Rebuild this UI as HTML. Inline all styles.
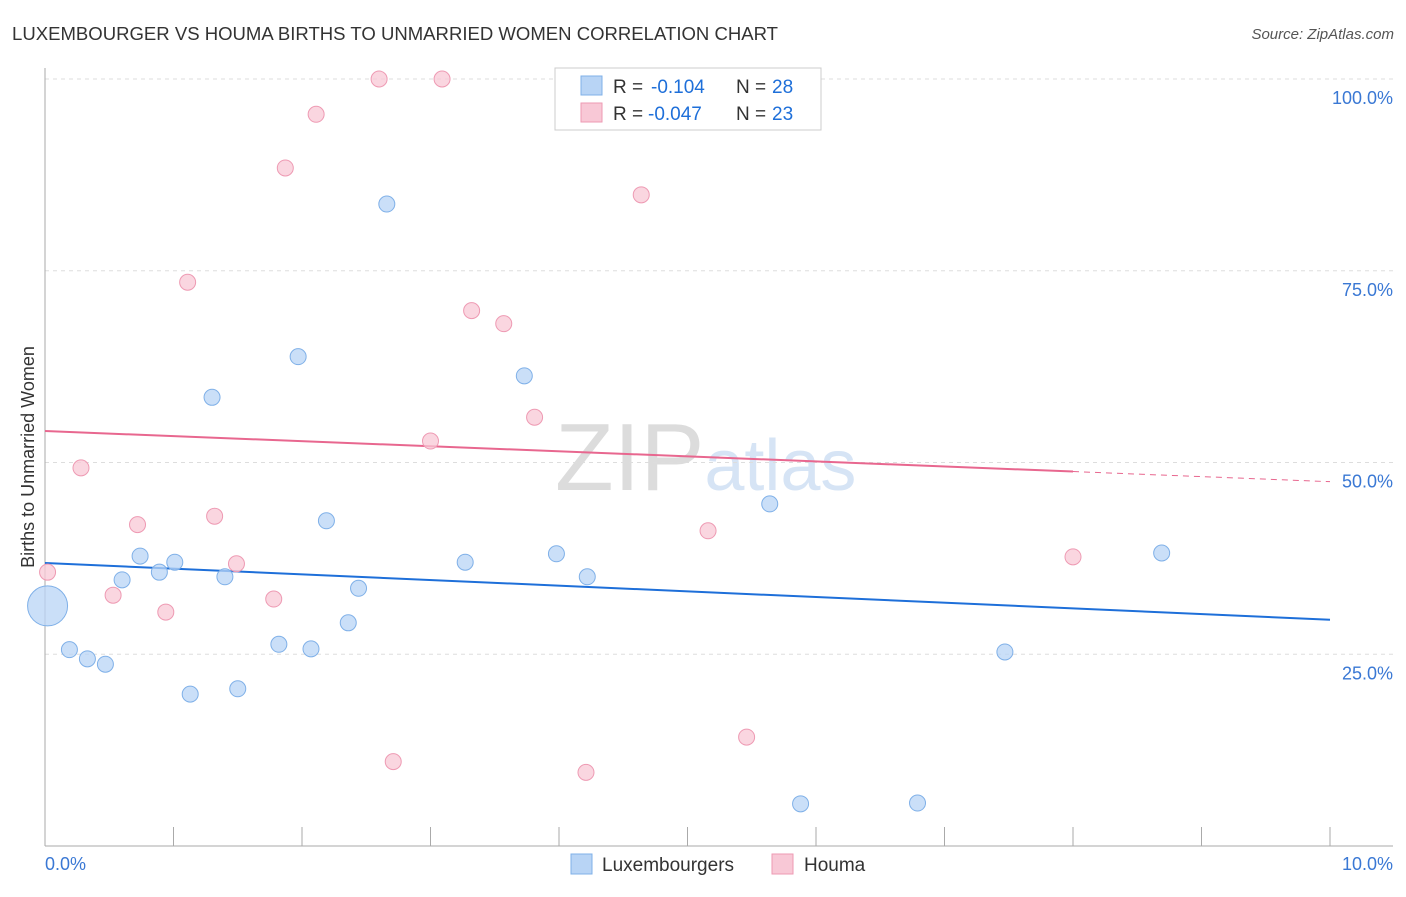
<!DOCTYPE html>
<html><head><meta charset="utf-8"><style>
body{margin:0;background:#fff;font-family:"Liberation Sans",sans-serif;}
svg text{font-family:"Liberation Sans",sans-serif;}
</style></head><body>
<svg width="1406" height="892" xmlns="http://www.w3.org/2000/svg">
<text x="12" y="40" font-size="18" fill="#333" textLength="766" lengthAdjust="spacingAndGlyphs">LUXEMBOURGER VS HOUMA BIRTHS TO UNMARRIED WOMEN CORRELATION CHART</text>
<text x="1394" y="39" font-size="15" fill="#555" font-style="italic" text-anchor="end">Source: ZipAtlas.com</text>
<text x="555" y="490" font-size="96" fill="#e4e4e4" font-family="Liberation Serif"><tspan fill="#dcdcdc">ZIP</tspan><tspan fill="#d6e4f5" font-family="Liberation Sans" font-size="72">atlas</tspan></text>
<g id="grid"></g>
<g id="axes"></g>
<text transform="translate(34,457) rotate(-90)" font-size="18" fill="#333" text-anchor="middle">Births to Unmarried Women</text>
<text x="45" y="870" font-size="18" fill="#3a78d4">0.0%</text>
<text x="1393" y="870" font-size="18" fill="#3a78d4" text-anchor="end">10.0%</text>
<g id="trend"></g>
<g id="points"></g>
<g>
<rect x="555" y="68" width="266" height="62" fill="#fff" stroke="#ccc"/>
<rect x="581" y="76" width="21" height="19" fill="#b8d4f5" stroke="#7fb0e8"/>
<rect x="581" y="103" width="21" height="19" fill="#f8c8d6" stroke="#ee9ab3"/>
<text x="613" y="93" font-size="19" fill="#333">R =</text>
<text x="651" y="93" font-size="19" fill="#1e6fd9">-0.104</text>
<text x="736" y="93" font-size="19" fill="#333">N =</text>
<text x="772" y="93" font-size="19" fill="#1e6fd9">28</text>
<text x="613" y="120" font-size="19" fill="#333">R =</text>
<text x="648" y="120" font-size="19" fill="#1e6fd9">-0.047</text>
<text x="736" y="120" font-size="19" fill="#333">N =</text>
<text x="772" y="120" font-size="19" fill="#1e6fd9">23</text>
</g>
<g>
<rect x="571" y="854" width="21" height="20" fill="#b8d4f5" stroke="#7fb0e8"/>
<text x="602" y="871" font-size="19" fill="#333">Luxembourgers</text>
<rect x="772" y="854" width="21" height="20" fill="#f8c8d6" stroke="#ee9ab3"/>
<text x="804" y="871" font-size="19" fill="#333">Houma</text>
</g>
</svg>
<script>
const yTicks=[25,50,75,100];
const yTickLabels=["25.0%","50.0%","75.0%","100.0%"];
const blueX=[0.02,0.19,0.33,0.47,0.60,0.74,0.89,1.01,1.13,1.30,1.40,1.50,1.82,1.97,2.07,2.19,2.36,2.44,2.66,3.27,3.73,3.98,4.22,5.64,5.88,6.79,7.47,8.69];
const blueY=[31.3,25.6,24.4,23.7,34.7,37.8,35.7,37.0,19.8,58.5,35.1,20.5,26.3,63.8,25.7,42.4,29.1,33.6,83.7,37.0,61.3,38.1,35.1,44.6,5.5,5.6,25.3,38.2];
const pinkX=[0.02,0.28,0.53,0.72,0.94,1.11,1.32,1.49,1.78,1.87,2.11,2.60,2.71,3.00,3.09,3.32,3.57,3.81,4.21,4.64,5.16,5.46,8.00];
const pinkY=[35.7,49.3,32.7,41.9,30.5,73.5,43.0,36.8,32.2,88.4,95.4,100,11.0,52.8,100,69.8,68.1,55.9,9.6,84.9,41.1,14.2,37.7];
const blueTrend=[36.9,29.5];
const pinkTrend=[54.1,47.5];
const NS="http://www.w3.org/2000/svg";
const sx=v=>45+v*128.5, sy=v=>846-v*7.67;
function mk(tag,attrs,parent){const e=document.createElementNS(NS,tag);for(const k in attrs)e.setAttribute(k,attrs[k]);document.getElementById(parent).appendChild(e);return e;}
yTicks.forEach((t,i)=>{
 const l=mk('line',{x1:45,x2:1393,y1:sy(t),y2:sy(t),stroke:'#ddd','stroke-dasharray':'4,4'},'grid');
 
 
 const tx=mk('text',{x:1393,y:sy(t)+25,'font-size':18,fill:'#3a78d4','text-anchor':'end'},'grid');
 tx.textContent=yTickLabels[i];
 
 
});
const ax=mk('line',{x1:45,x2:1393,y1:846,y2:846,stroke:'#aaa'},'axes');


const ay=mk('line',{x1:45,x2:45,y1:68,y2:846,stroke:'#aaa'},'axes');


for(let i=1;i<=10;i++){const t=mk('line',{x1:sx(i),x2:sx(i),y1:827,y2:846,stroke:'#aaa'},'axes');
 
 }
const bt=mk('line',{x1:sx(0),x2:sx(10),y1:sy(blueTrend[0]),y2:sy(blueTrend[1]),stroke:'#1e6fd9','stroke-width':2},'trend');


const pAt=x=>pinkTrend[0]+(pinkTrend[1]-pinkTrend[0])*x/10;
const pt=mk('line',{x1:sx(0),x2:sx(8),y1:sy(pAt(0)),y2:sy(pAt(8)),stroke:'#e8678f','stroke-width':2},'trend');


const pd=mk('line',{x1:sx(8),x2:sx(10),y1:sy(pAt(8)),y2:sy(pAt(10)),stroke:'#e8678f','stroke-width':1,'stroke-dasharray':'6,5'},'trend');


pinkX.forEach((x,i)=>{const c=mk('circle',{cx:sx(x),cy:sy(pinkY[i]),r:8,fill:'#f8c8d6','fill-opacity':0.75,stroke:'#ee9ab3'},'points');
 
 });
blueX.forEach((x,i)=>{const c=mk('circle',{cx:sx(x),cy:sy(blueY[i]),r:i===0?20:8,fill:'#b8d4f5','fill-opacity':0.75,stroke:'#7fb0e8'},'points');
 
 });
</script>
</body></html>
